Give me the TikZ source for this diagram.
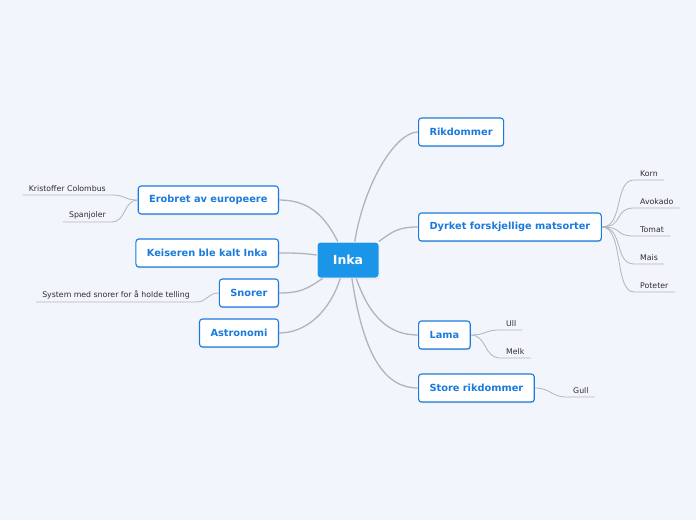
\documentclass[tikz,border=0pt]{standalone}
\usepackage{fontspec}
\setmainfont{DejaVu Sans}
\usetikzlibrary{shadows}
\definecolor{bg}{HTML}{F3F5FD}
\definecolor{topic}{HTML}{1B7BDD}
\definecolor{core}{HTML}{1A95E8}
\definecolor{link}{HTML}{B2B4BC}
\definecolor{leaftxt}{HTML}{2E2E2E}

\begin{document}
\begin{tikzpicture}[x=1pt,y=-1pt,
  main/.style={draw=topic,fill=white,rounded corners=3pt,line width=1.1pt,
               font=\fontsize{9.8}{11}\selectfont\bfseries,text=topic,
               minimum height=28,inner xsep=11pt,
               drop shadow={shadow xshift=0.6pt,shadow yshift=-1.2pt,opacity=0.25}},
  root/.style={main,fill=core,draw=white,text=white,line width=1pt,
               font=\fontsize{12.5}{14}\selectfont\bfseries,
               minimum width=62,minimum height=36},
  leaf/.style={font=\fontsize{7.8}{9}\selectfont,text=leaftxt,inner xsep=6pt,inner ysep=3pt},
  arm/.style={draw=link,line width=1.3pt},
  twig/.style={draw=link,line width=0.8pt}]

\fill[bg] (0,0) rectangle (696,520);

% centre
\node[root] (inka) at (348,260) {Inka};

% right side
\node[main,anchor=west] (rik)   at (418,132) {Rikdommer};
\node[main,anchor=west] (dyr)   at (418,227) {Dyrket forskjellige matsorter};
\node[main,anchor=west] (lama)  at (418,335) {Lama};
\node[main,anchor=west] (store) at (418,388) {Store rikdommer};

% left side
\node[main,anchor=east] (ero) at (279,200) {Erobret av europeere};
\node[main,anchor=east] (kei) at (279,253) {Keiseren ble kalt Inka};
\node[main,anchor=east] (sno) at (279,293) {Snorer};
\node[main,anchor=east] (ast) at (279,333) {Astronomi};

% leaves
\node[leaf,anchor=south west] (korn) at (634,180) {Korn};
\node[leaf,anchor=south west] (avo)  at (634,208) {Avokado};
\node[leaf,anchor=south west] (tom)  at (634,236) {Tomat};
\node[leaf,anchor=south west] (mais) at (634,264) {Mais};
\node[leaf,anchor=south west] (pot)  at (634,292) {Poteter};
\node[leaf,anchor=south west] (ull)  at (500,330) {Ull};
\node[leaf,anchor=south west] (melk) at (500,358) {Melk};
\node[leaf,anchor=south west] (gull) at (567,397) {Gull};
\node[leaf,anchor=south east] (col)  at (112,195) {Kristoffer Colombus};
\node[leaf,anchor=south east] (spa)  at (112,222) {Spanjoler};
\node[leaf,anchor=south east] (tel)  at (196,302) {System med snorer for å holde telling};

% arms from the centre
\draw[arm] (inka.70)  .. controls +(10,-60) and +(-22,0) .. (rik.west);
\draw[arm] (inka.31)  .. controls +(14,-10) and +(-20,0) .. (dyr.west);
\draw[arm] (inka.-66) .. controls +(14,40)  and +(-28,0) .. (lama.west);
\draw[arm] (inka.-78) .. controls +(12,80)  and +(-32,0) .. (store.west);
\draw[arm] (inka.119) .. controls +(-14,-28) and +(28,0) .. (ero.east);
\draw[arm] (inka.171) .. controls +(-15,-2) and +(15,0)  .. (kei.east);
\draw[arm] (inka.216) .. controls +(-15,10) and +(22,0)  .. (sno.east);
\draw[arm] (inka.247) .. controls +(-10,32) and +(28,0)  .. (ast.east);

% twigs to the leaves
\foreach \l in {korn,avo,tom,mais,pot}
  \draw[twig] (dyr.east) .. controls +(22,0) and +(-20,0) .. (\l.south west) -- (\l.south east);
\foreach \l in {ull,melk}
  \draw[twig] (lama.east) .. controls +(16,0) and +(-16,0) .. (\l.south west) -- (\l.south east);
\draw[twig] (store.east) .. controls +(16,0) and +(-16,0) .. (gull.south west) -- (gull.south east);
\foreach \l in {col,spa}
  \draw[twig] (ero.west) .. controls +(-14,0) and +(14,0) .. (\l.south east) -- (\l.south west);
\draw[twig] (sno.west) .. controls +(-12,0) and +(12,0) .. (tel.south east) -- (tel.south west);
\end{tikzpicture}
\end{document}
